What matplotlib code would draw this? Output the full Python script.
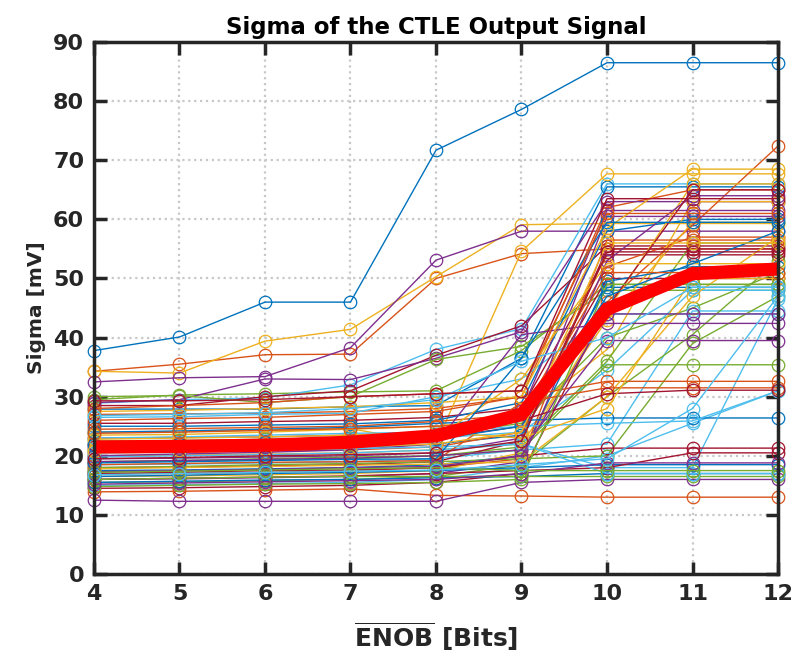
import matplotlib.pyplot as plt
import numpy as np

enob = [4, 5, 6, 7, 8, 9, 10, 11, 12]

# sigma of each CTLE configuration [mV] at every ENOB step
sigma = [
    [37.8, 40.1, 46.0, 46.0, 71.7, 78.6, 86.5, 86.5, 86.5],
    [34.3, 35.5, 37.1, 37.2, 50.0, 54.2, 55.0, 55.0, 55.0],
    [34.3, 34.0, 39.4, 41.4, 50.3, 59.1, 59.3, 59.3, 59.3],
    [32.5, 33.2, 33.4, 38.3, 53.1, 58.0, 58.0, 58.0, 58.0],
    [29.5, 30.3, 30.5, 30.8, 31.0, 37.8, 49.0, 49.0, 49.0],
    [28.9, 29.5, 29.8, 32.0, 38.0, 41.5, 66.0, 66.0, 66.0],
    [28.5, 28.5, 30.0, 31.0, 37.0, 42.0, 55.5, 55.5, 55.5],
    [27.9, 27.9, 27.9, 28.3, 28.5, 36.5, 65.5, 65.5, 65.5],
    [27.0, 27.1, 27.2, 27.5, 28.0, 30.0, 62.0, 65.0, 65.0],
    [24.0, 24.1, 24.3, 24.6, 22.0, 54.6, 67.7, 67.7, 67.7],
    [29.0, 29.5, 33.0, 32.9, 36.5, 41.0, 63.0, 63.0, 63.0],
    [30.0, 30.2, 29.0, 30.0, 36.3, 38.5, 48.0, 48.0, 48.0],
    [26.5, 26.6, 27.0, 27.2, 30.0, 33.0, 44.0, 44.0, 44.0],
    [25.5, 25.5, 25.8, 26.0, 26.5, 28.0, 54.0, 54.0, 54.0],
    [25.0, 25.0, 25.2, 25.4, 26.0, 29.0, 58.0, 60.0, 60.0],
    [24.5, 24.6, 24.8, 25.0, 25.8, 27.0, 52.0, 57.0, 57.0],
    [23.5, 23.6, 24.0, 24.5, 25.0, 26.5, 38.0, 63.0, 63.0],
    [23.0, 23.1, 23.2, 23.5, 24.0, 27.5, 61.5, 61.5, 61.5],
    [22.5, 22.6, 22.8, 23.0, 23.5, 25.5, 40.0, 45.0, 51.0],
    [22.0, 22.0, 22.2, 22.5, 23.0, 24.0, 34.5, 48.0, 48.0],
    [21.5, 21.6, 21.8, 22.0, 23.0, 25.0, 50.0, 50.0, 50.0],
    [21.0, 21.0, 21.2, 21.4, 22.0, 23.5, 48.5, 48.5, 48.5],
    [20.5, 20.6, 20.8, 21.0, 21.5, 24.0, 46.0, 59.0, 72.4],
    [20.0, 20.1, 20.3, 20.5, 21.0, 22.0, 43.0, 59.5, 59.5],
    [19.5, 19.6, 19.8, 20.0, 20.5, 23.0, 60.5, 60.5, 60.5],
    [19.0, 19.1, 19.3, 19.5, 20.0, 21.5, 36.0, 56.0, 56.0],
    [18.5, 18.6, 18.8, 19.0, 19.5, 21.0, 22.0, 44.5, 44.5],
    [18.0, 18.1, 18.3, 18.5, 19.0, 22.5, 55.0, 55.0, 55.0],
    [17.5, 17.6, 17.8, 18.0, 18.5, 20.0, 49.5, 52.0, 52.0],
    [17.0, 17.0, 17.2, 17.5, 18.0, 19.5, 56.5, 56.5, 56.5],
    [16.5, 16.6, 16.8, 17.0, 17.5, 20.5, 44.5, 66.0, 66.0],
    [16.0, 16.1, 16.3, 16.5, 17.0, 19.0, 53.0, 64.0, 64.0],
    [15.5, 15.6, 15.8, 16.0, 16.5, 18.5, 30.0, 40.5, 53.0],
    [15.0, 15.1, 15.3, 15.5, 16.0, 18.0, 20.0, 25.5, 31.0],
    [14.5, 14.6, 14.8, 15.0, 15.5, 17.0, 45.0, 65.0, 65.0],
    [24.0, 24.2, 24.5, 24.8, 25.5, 26.0, 26.4, 26.4, 26.4],
    [13.9, 14.0, 14.2, 14.4, 13.3, 13.2, 13.0, 13.0, 13.0],
    [21.0, 21.2, 21.5, 22.0, 23.0, 33.0, 52.5, 52.5, 52.5],
    [12.5, 12.3, 12.3, 12.3, 12.3, 15.5, 16.0, 16.0, 16.0],
    [18.0, 18.2, 18.5, 18.7, 19.0, 19.5, 20.0, 39.0, 47.0],
    [19.8, 20.0, 20.2, 20.5, 21.0, 22.0, 18.0, 18.0, 46.5],
    [17.0, 17.2, 17.5, 17.6, 18.0, 20.0, 21.3, 21.3, 21.3],
    [16.5, 16.7, 17.0, 17.2, 17.5, 18.0, 18.5, 18.5, 18.5],
    [26.0, 26.3, 26.5, 27.0, 27.5, 30.0, 32.6, 32.6, 32.6],
    [17.8, 18.0, 18.2, 18.4, 18.6, 19.0, 30.0, 47.0, 57.0],
    [20.0, 20.3, 20.6, 21.0, 22.0, 40.5, 42.4, 42.4, 42.4],
    [19.0, 19.2, 19.5, 19.8, 20.0, 21.0, 35.4, 35.4, 35.4],
    [23.0, 23.2, 23.5, 23.8, 24.0, 25.0, 25.5, 25.9, 31.0],
    [16.0, 16.2, 16.4, 16.6, 17.0, 17.5, 18.0, 20.5, 20.5],
    [15.5, 15.7, 15.9, 16.0, 16.3, 16.5, 17.0, 17.0, 17.0],
    [18.5, 18.7, 18.9, 19.0, 19.2, 29.0, 31.5, 31.5, 31.5],
    [27.5, 27.7, 28.0, 28.3, 29.0, 30.0, 58.5, 68.5, 68.5],
    [19.0, 19.2, 19.4, 19.6, 20.0, 21.0, 39.5, 39.5, 39.5],
    [16.0, 16.2, 16.4, 16.5, 16.5, 16.5, 16.5, 16.5, 16.5],
    [20.5, 20.7, 21.0, 21.2, 21.5, 22.0, 17.0, 17.0, 17.0],
    [22.0, 22.2, 22.4, 22.6, 23.0, 26.0, 30.5, 31.1, 31.1],
    [18.8, 19.0, 19.2, 19.4, 19.5, 36.5, 59.5, 59.5, 59.5],
    [28.0, 28.5, 29.0, 30.0, 30.5, 31.0, 61.0, 61.0, 61.0],
    [22.8, 23.0, 23.2, 23.5, 24.0, 23.0, 28.0, 50.0, 50.0],
    [17.3, 17.5, 17.7, 18.0, 18.2, 20.0, 44.0, 44.0, 44.0],
    [14.8, 15.0, 15.2, 15.3, 15.5, 16.0, 49.0, 49.0, 49.0],
    [26.8, 27.0, 27.3, 28.0, 29.5, 36.0, 40.0, 48.5, 48.5],
    [29.3, 29.3, 29.5, 30.0, 30.5, 31.0, 63.5, 63.5, 63.5],
    [21.8, 22.0, 22.3, 22.5, 22.8, 25.0, 47.0, 52.5, 58.0],
    [23.8, 24.0, 24.3, 24.6, 25.0, 26.0, 51.0, 51.0, 51.0],
    [20.8, 21.0, 21.2, 21.5, 22.0, 24.0, 56.0, 56.0, 56.0],
    [15.2, 15.4, 15.6, 15.8, 16.0, 17.0, 18.8, 18.8, 18.8],
    [17.2, 17.4, 17.6, 17.8, 18.0, 17.5, 17.5, 17.5, 17.5],
    [16.8, 17.0, 17.2, 17.4, 17.6, 18.5, 19.5, 28.0, 47.0],
    [19.5, 19.7, 20.0, 20.2, 20.5, 22.5, 54.5, 54.5, 54.5],
]

sigma_mean = [21.5, 21.6, 21.8, 22.3, 23.4, 27.0, 44.8, 50.8, 51.6]

# MATLAB default line colours
colors = ['#0072BD', '#D95319', '#EDB120', '#7E2F8E',
          '#77AC30', '#4DBEEE', '#A2142F']

fig = plt.figure(figsize=(7.93, 6.63), dpi=100)
ax = fig.add_axes([0.1185, 0.1342, 0.8626, 0.8024])

for i, s in enumerate(sigma):
    ax.plot(enob, s, color=colors[i % 7], lw=1.0, marker='o', ms=9,
            mfc='none', mew=0.9, clip_on=False, zorder=3)

ax.plot(enob, sigma_mean, color='#FF0000', lw=9.5, solid_joinstyle='miter',
        zorder=4)

ax.set_xlim(4, 12)
ax.set_ylim(0, 90)
ax.set_xticks(enob)
ax.set_yticks(np.arange(0, 91, 10))
ax.grid(True, color='#c8c8c8', linestyle=':', lw=1.6)
ax.set_axisbelow(True)

for sp in ax.spines.values():
    sp.set_linewidth(2.5)
    sp.set_color('#262626')
    sp.set_zorder(5)
ax.tick_params(direction='in', length=9, width=2.5, color='#262626',
               top=True, right=True, labelsize=16, labelcolor='#262626',
               pad=7)
for lab in ax.get_xticklabels() + ax.get_yticklabels():
    lab.set_fontweight('bold')

ax.set_title('Sigma of the CTLE Output Signal', fontsize=16.5,
             fontweight='bold', color='black', pad=6)
ax.set_ylabel('Sigma [mV]', fontsize=14.5, fontweight='bold', color='#262626',
              labelpad=5)
ax.set_xlabel(r'$\overline{\mathbf{ENOB}}$ [Bits]', fontsize=18,
              fontweight='bold', color='#262626', labelpad=12)

plt.savefig('out.png', dpi=100)
